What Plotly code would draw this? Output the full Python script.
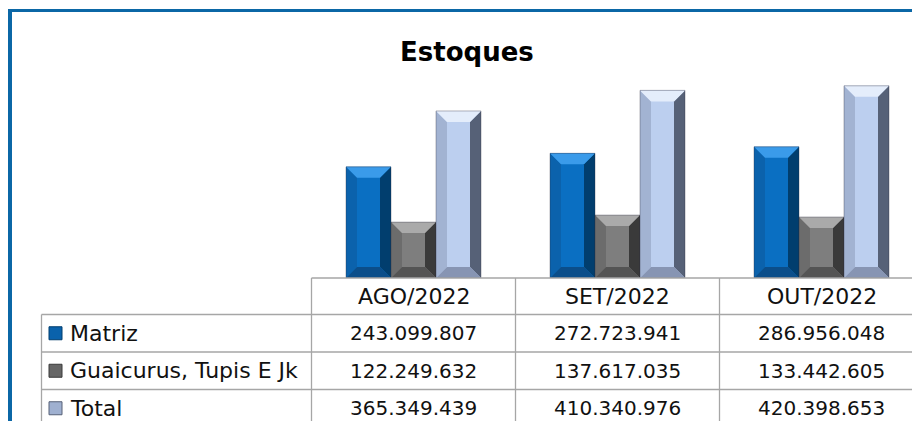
import plotly.graph_objects as go

# ---------------- data ----------------
categories = ["AGO/2022", "SET/2022", "OUT/2022"]
series_names = ["Matriz", "Guaicurus, Tupis E Jk", "Total"]
matriz = [243099807, 272723941, 286956048]
guaicurus = [122249632, 137617035, 133442605]
total = [365349439, 410340976, 420398653]
title_text = "Estoques"

# ---------------- styles ----------------
W, H = 912, 421
FONT = "DejaVu Sans"
styles = [
    dict(face="#0A6FC2", top="#3A9BEA", left="#0B62AC", right="#013E6E", bottom="#0B4E8A"),
    dict(face="#7E7E7E", top="#AAAAAA", left="#6C6C6C", right="#3A3A3A", bottom="#545454"),
    dict(face="#BCCFEF", top="#E4EDFB", left="#A2B3D2", right="#566177", bottom="#8795B3"),
]
icon_colors = ["#0A62AC", "#666666", "#9FB0D0"]
grid = "#A6A6A6"


def px(x):
    return x / W


def py(y):
    return 1 - y / H


# plot geometry (pixels)
col_w = 204.0
x_left = 311.5
base_y = 278.0
px_per_unit = 0.4572e-6
ymax = 450e6
top_y = base_y - ymax * px_per_unit
bar_px = 45.0
bar_w = bar_px / col_w
xr = [-0.5, -0.5 + (W - x_left) / col_w]

fig = go.Figure()
series = [matriz, guaicurus, total]
xs = list(range(len(categories)))
for j, (name, vals, st) in enumerate(zip(series_names, series, styles)):
    offs = (j - 1) * bar_w
    fig.add_trace(go.Bar(
        x=[i + offs for i in xs], y=vals, width=bar_w, name=name,
        marker=dict(color=st["face"], line=dict(width=0)),
        showlegend=False, hoverinfo="skip"))

# bevel shapes derived from the data values
bev_px = 11.0
shapes = []
for j, (vals, st) in enumerate(zip(series, styles)):
    offs = (j - 1) * bar_w
    for i, v in enumerate(vals):
        xl = i + offs - bar_w / 2
        xrr = i + offs + bar_w / 2
        hpx = v * px_per_unit
        b = min(bev_px, hpx / 2.2)
        bx = b / col_w
        by = b / px_per_unit
        ixl, ixr = xl + bx, xrr - bx
        iyb, iyt = by, v - by
        polys = [
            ("left", [(xl, 0), (xl, v), (ixl, iyt), (ixl, iyb)]),
            ("right", [(xrr, 0), (xrr, v), (ixr, iyt), (ixr, iyb)]),
            ("bottom", [(xl, 0), (xrr, 0), (ixr, iyb), (ixl, iyb)]),
            ("top", [(xl, v), (xrr, v), (ixr, iyt), (ixl, iyt)]),
        ]
        for key, pts in polys:
            path = "M " + " L ".join(f"{a},{c}" for a, c in pts) + " Z"
            shapes.append(dict(type="path", xref="x", yref="y", path=path,
                               fillcolor=st[key], line=dict(width=0), layer="above"))
        shapes.append(dict(type="rect", xref="x", yref="y", x0=xl, x1=xrr, y0=0, y1=v,
                           line=dict(color="rgba(40,40,60,0.35)", width=1), layer="above"))

# ---------------- table lines ----------------
row_lines = [278, 314.5, 352, 389.5, 427]
col_lines = [x_left + k * col_w for k in range(len(categories) + 1)]
lbl_left = 41.5
for k, y in enumerate(row_lines):
    xs0 = x_left if k == 0 else lbl_left
    shapes.append(dict(type="line", xref="paper", yref="paper", x0=px(xs0), x1=1.0,
                       y0=py(y), y1=py(y), line=dict(color=grid, width=1.3)))
shapes.append(dict(type="line", xref="paper", yref="paper", x0=px(lbl_left), x1=px(lbl_left),
                   y0=py(row_lines[1]), y1=0, line=dict(color=grid, width=1.3)))
for x in col_lines:
    if x <= W:
        shapes.append(dict(type="line", xref="paper", yref="paper", x0=px(x), x1=px(x),
                           y0=py(row_lines[0]), y1=0, line=dict(color=grid, width=1.3)))

# outer blue frame
frame = "#0B67A6"
shapes.append(dict(type="rect", xref="paper", yref="paper", x0=px(8), x1=px(12),
                   y0=0, y1=py(9), fillcolor=frame, line=dict(width=0)))
shapes.append(dict(type="rect", xref="paper", yref="paper", x0=px(8), x1=1.0,
                   y0=py(12), y1=py(9), fillcolor=frame, line=dict(width=0)))

annotations = []
annotations.append(dict(xref="paper", yref="paper", x=px(467), y=py(52), text=f"<b>{title_text}</b>",
                        showarrow=False, xanchor="center", yanchor="middle",
                        font=dict(family=FONT, size=26, color="#000000")))
for k, c in enumerate(categories):
    cx = x_left + col_w * (k + 0.5)
    annotations.append(dict(xref="paper", yref="paper", x=px(cx), y=py((row_lines[0] + row_lines[1]) / 2),
                            text=c, showarrow=False, xanchor="center", yanchor="middle",
                            font=dict(family=FONT, size=22, color="#111111")))


def fmt(v):
    return f"{v:,}".replace(",", ".")


for r, (name, vals) in enumerate(zip(series_names, series)):
    yc = (row_lines[r + 1] + row_lines[r + 2]) / 2
    annotations.append(dict(xref="paper", yref="paper", x=px(68), y=py(yc), text=name,
                            showarrow=False, xanchor="left", yanchor="middle",
                            font=dict(family=FONT, size=22, color="#111111")))
    shapes.append(dict(type="rect", xref="paper", yref="paper", x0=px(49), x1=px(62),
                       y0=py(yc + 6.5), y1=py(yc - 6.5), fillcolor=icon_colors[r],
                       line=dict(color=styles[r]["right"], width=1)))
    for k, v in enumerate(vals):
        cx = x_left + col_w * (k + 0.5)
        annotations.append(dict(xref="paper", yref="paper", x=px(cx), y=py(yc), text=fmt(v),
                                showarrow=False, xanchor="center", yanchor="middle",
                                font=dict(family=FONT, size=20, color="#111111")))

fig.update_layout(
    width=W, height=H,
    margin=dict(l=0, r=0, t=0, b=0),
    paper_bgcolor="white", plot_bgcolor="white",
    xaxis=dict(domain=[px(x_left), 1.0], range=xr, showgrid=False, zeroline=False,
               showticklabels=False, ticks="", showline=False, fixedrange=True),
    yaxis=dict(domain=[py(base_y), py(top_y)], range=[0, ymax], showgrid=False, zeroline=False,
               showticklabels=False, ticks="", showline=False, fixedrange=True),
    barmode="overlay",
    shapes=shapes,
    annotations=annotations,
    showlegend=False,
)

fig.write_html("out.html", config={"displayModeBar": False},
               post_script="document.body.style.margin='0';document.body.style.overflow='hidden';")
